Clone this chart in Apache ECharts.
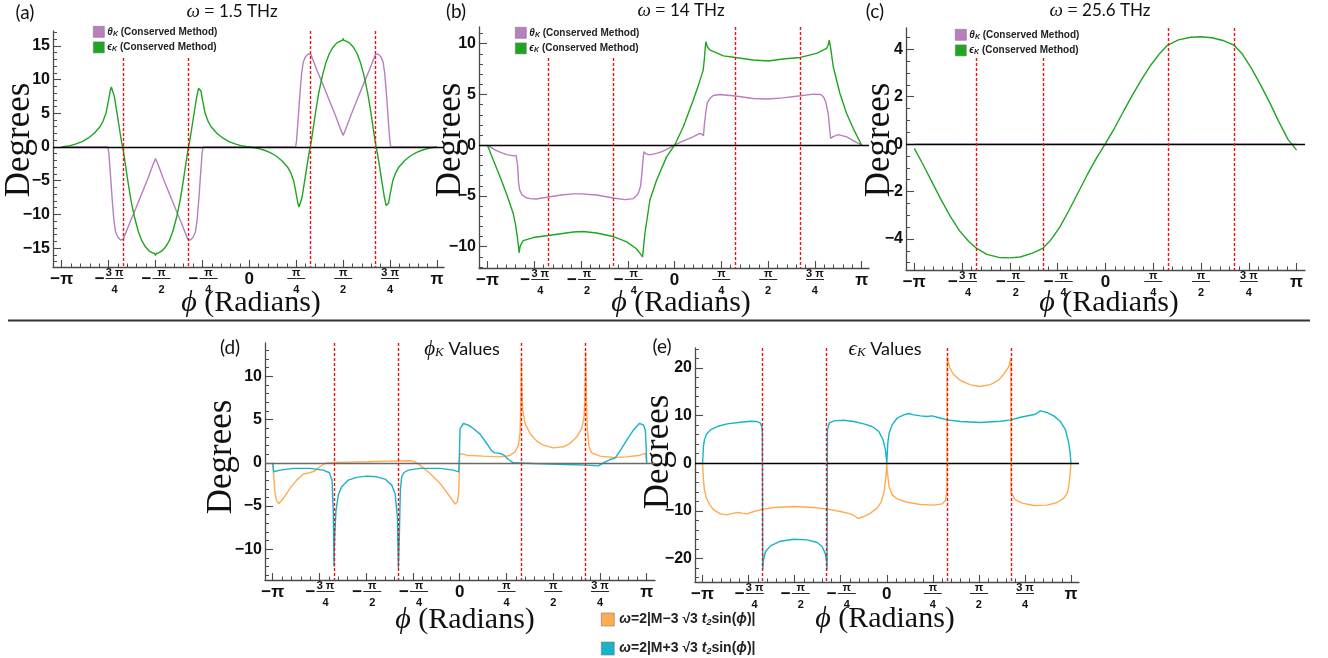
<!DOCTYPE html>
<html>
<head>
<meta charset="utf-8">
<script src="https://cdn.jsdelivr.net/npm/echarts@6/dist/echarts.min.js"></script>
<style>
  html, body { margin: 0; padding: 0; background: #fff; }
  #chart { width: 1328px; height: 658px; }
</style>
</head>
<body>
<div id="chart"></div>
<script>
const PI = Math.PI;

// ---- phi axis ticks (multiples of pi/4) ----
const tickPhi = [-PI, -3 * PI / 4, -PI / 2, -PI / 4, 0, PI / 4, PI / 2, 3 * PI / 4, PI];
const tickText = ['−π', '−3π/4', '−π/2', '−π/4', '0', 'π/4', 'π/2', '3π/4', 'π'];

// ---- degree axis ticks per panel ----
const yTicksA = [-15, -10, -5, 0, 5, 10, 15];
const yTicksB = [-10, -5, 0, 5, 10];
const yTicksC = [-4, -2, 0, 2, 4];
const yTicksD = [-10, -5, 0, 5, 10];
const yTicksE = [-20, -10, 0, 10, 20];

// ---- guide lines: [phi, from, to] ----
const guidesA = [[-2.116, 13.2, -17.8], [-1.026, 13.2, -17.8], [1.026, 17.2, -17.8], [2.116, 17.2, -17.8]];
const guidesB = [[-2.116, 8.6, -12.1], [-1.026, 8.6, -12.1], [1.026, 11.65, -12.1], [2.116, 11.65, -12.1]];
const guidesC = [[-2.116, 3.63, -5.31], [-1.026, 3.63, -5.31], [1.026, 4.9, -5.31], [2.116, 4.9, -5.31]];
const guidesD = [[-2.116, 13.84, -13.54], [-1.026, 13.84, -13.54], [1.026, 13.84, -13.54], [2.116, 13.84, -13.54]];
const guidesE = [[-2.116, 24.2, -24.96], [-1.026, 24.2, -24.96], [1.026, 24.2, -24.96], [2.116, 24.2, -24.96]];

// ---- (a) omega = 1.5 THz ----
const phiThetaA = [-3.1416, -2.367, -2.351, -2.323, -2.295, -2.267, -2.239, -2.2, -2.155, -2.111, -2.0, -1.9, -1.8, -1.7, -1.62, -1.571, -1.52, -1.44, -1.34, -1.24, -1.14, -1.031, -0.987, -0.942, -0.903, -0.875, -0.847, -0.819, -0.791, -0.775,
  0.775, 0.791, 0.819, 0.847, 0.875, 0.903, 0.942, 0.987, 1.031, 1.14, 1.24, 1.34, 1.44, 1.52, 1.571, 1.62, 1.70, 1.80, 1.90, 2.0, 2.111, 2.155, 2.2, 2.239, 2.267, 2.295, 2.323, 2.351, 2.367, 3.1416];
const thetaA = [0, 0, -1.0, -4.4, -7.9, -10.9, -12.6, -13.4, -13.8, -13.7, -11.2, -9.1, -6.9, -4.7, -2.8, -1.7, -2.8, -4.7, -6.9, -9.1, -11.2, -13.7, -13.8, -13.4, -12.6, -10.9, -7.9, -4.4, -1.0, 0,
  0, 1.0, 4.4, 7.9, 10.9, 12.6, 13.4, 13.8, 13.7, 11.2, 9.1, 6.9, 4.7, 2.8, 1.7, 2.8, 4.7, 6.9, 9.1, 11.2, 13.7, 13.8, 13.4, 12.6, 10.9, 7.9, 4.4, 1.0, 0, 0];
const phiEpsA = [-3.1416, -3.0, -2.9, -2.8, -2.7, -2.6, -2.5, -2.45, -2.4, -2.36, -2.33, -2.31, -2.29, -2.26, -2.22, -2.18, -2.14, -2.12, -2.08, -2.03, -1.98, -1.92, -1.86, -1.80, -1.74, -1.68, -1.62, -1.585, -1.571, -1.557, -1.52, -1.46, -1.40, -1.34, -1.28, -1.22, -1.16, -1.11, -1.06, -1.02, -1.00, -0.96, -0.92, -0.88, -0.85, -0.83, -0.81, -0.78, -0.74, -0.69, -0.64, -0.54, -0.44, -0.34, -0.24, -0.14, 0,
  0.1416, 0.2416, 0.3416, 0.4416, 0.5416, 0.6416, 0.6916, 0.7416, 0.7816, 0.8116, 0.8316, 0.8516, 0.8816, 0.9216, 0.9616, 1.0016, 1.0216, 1.0616, 1.1116, 1.1616, 1.2216, 1.2816, 1.3416, 1.4016, 1.4616, 1.5216, 1.5566, 1.5706, 1.5846, 1.6216, 1.6816, 1.7416, 1.8016, 1.8616, 1.9216, 1.9816, 2.0316, 2.0816, 2.1216, 2.1416, 2.1816, 2.2216, 2.2616, 2.2916, 2.3116, 2.3316, 2.3616, 2.4016, 2.4516, 2.5016, 2.6016, 2.7016, 2.8016, 2.9016, 3.0016, 3.1416];
const epsA = [0, 0.2, 0.45, 0.8, 1.3, 2.0, 3.0, 3.8, 5.0, 6.8, 8.3, 8.9, 8.7, 7.5, 5.3, 3.0, 0.8, 0, -2.3, -5.3, -8.0, -10.5, -12.5, -13.9, -14.8, -15.4, -15.7, -15.8, -16.1, -15.8, -15.7, -15.4, -14.8, -13.9, -12.5, -10.5, -8.0, -5.3, -2.3, 0, 0.8, 3.0, 5.3, 7.5, 8.7, 8.9, 8.3, 6.8, 5.0, 3.8, 3.0, 2.0, 1.3, 0.8, 0.45, 0.2, 0,
  -0.2, -0.45, -0.8, -1.3, -2.0, -3.0, -3.8, -5.0, -6.8, -8.3, -8.9, -8.7, -7.5, -5.3, -3.0, -0.8, 0, 2.3, 5.3, 8.0, 10.5, 12.5, 13.9, 14.8, 15.4, 15.7, 15.8, 16.1, 15.8, 15.7, 15.4, 14.8, 13.9, 12.5, 10.5, 8.0, 5.3, 2.3, 0, -0.8, -3.0, -5.3, -7.5, -8.7, -8.9, -8.3, -6.8, -5.0, -3.8, -3.0, -2.0, -1.3, -0.8, -0.45, -0.2, 0];

// ---- (b) omega = 14 THz ----
const phiThetaB = [-3.1416, -3.0, -2.9, -2.8, -2.7, -2.66, -2.645, -2.635, -2.62, -2.60, -2.56, -2.50, -2.43, -2.32, -2.12, -1.9, -1.7, -1.57, -1.31, -1.03, -0.834, -0.69, -0.61, -0.57, -0.554, -0.535, -0.515, -0.48, -0.42, -0.3, -0.2, -0.1, 0,
  0.1, 0.2, 0.3, 0.4, 0.44, 0.47, 0.485, 0.50, 0.526, 0.55, 0.593, 0.65, 0.76, 1.02, 1.32, 1.57, 1.82, 2.11, 2.33, 2.45, 2.50, 2.54, 2.58, 2.605, 2.62, 2.66, 2.75, 2.89, 3.0, 3.1416];
const thetaB = [0, -0.5, -0.75, -0.95, -1.05, -1.0, -0.9, -2.0, -3.6, -4.4, -4.9, -5.15, -5.26, -5.3, -5.1, -4.9, -4.8, -4.8, -4.9, -5.2, -5.36, -5.26, -4.77, -4.0, -3.1, -1.8, -0.65, -0.85, -0.95, -0.8, -0.6, -0.3, 0,
  0.3, 0.55, 0.8, 1.1, 1.15, 1.05, 0.95, 2.0, 3.3, 4.2, 4.6, 4.9, 5.0, 4.85, 4.6, 4.55, 4.67, 4.87, 5.03, 5.0, 4.77, 4.2, 3.1, 1.5, 0.66, 0.85, 1.05, 0.82, 0.45, 0];
const phiEpsB = [-3.1416, -3.04, -2.93, -2.82, -2.71, -2.67, -2.64, -2.62, -2.61, -2.59, -2.54, -2.37, -2.12, -1.70, -1.53, -1.31, -1.03, -0.81, -0.64, -0.56, -0.537, -0.498, -0.414, -0.302, -0.134, 0,
  0.145, 0.313, 0.40, 0.481, 0.50, 0.515, 0.526, 0.55, 0.59, 0.82, 1.02, 1.32, 1.57, 1.82, 2.11, 2.384, 2.552, 2.58, 2.597, 2.62, 2.664, 2.776, 2.888, 3.0, 3.1416];
const epsB = [0, -1.5, -3.1, -4.8, -6.7, -7.8, -9.0, -10.0, -10.6, -9.9, -9.4, -9.1, -8.9, -8.55, -8.5, -8.65, -9.0, -9.5, -10.2, -10.8, -11.0, -8.7, -5.4, -3.45, -1.15, 0,
  1.8, 4.44, 5.9, 7.4, 8.5, 9.6, 10.2, 9.7, 9.4, 8.8, 8.65, 8.4, 8.3, 8.5, 8.65, 9.05, 9.54, 9.9, 10.36, 9.6, 7.73, 5.1, 3.13, 1.64, 0];

// ---- (c) omega = 25.6 THz ----
const phiThetaC = [-3.1416, 3.1416];
const thetaC = [0, 0];
const phiEpsC = [-3.1416, -3.0, -2.85, -2.7, -2.55, -2.4, -2.25, -2.116, -1.95, -1.75, -1.573, -1.4, -1.2, -1.031, -0.9, -0.75, -0.6, -0.45, -0.3, -0.15, 0,
  0.15, 0.3, 0.45, 0.6, 0.75, 0.9, 1.025, 1.2, 1.4, 1.568, 1.75, 1.95, 2.111, 2.25, 2.4, 2.55, 2.7, 2.85, 3.0, 3.1416];
const epsC = [-0.18, -0.85, -1.6, -2.35, -3.05, -3.65, -4.1, -4.4, -4.65, -4.78, -4.8, -4.76, -4.6, -4.4, -4.05, -3.5, -2.8, -2.05, -1.3, -0.6, 0.02,
  0.68, 1.4, 2.1, 2.75, 3.35, 3.85, 4.18, 4.4, 4.51, 4.53, 4.49, 4.36, 4.18, 3.8, 3.2, 2.5, 1.75, 0.95, 0.2, -0.25];

// ---- (d) phi_K values ----
const phiMinusD = [-3.1416, -3.119, -3.103, -3.075, -3.035, -2.963, -2.851, -2.739, -2.627, -2.515, -2.431, -2.347, -2.263, -2.123, -1.843, -1.562, -1.226, -0.834, -0.75, -0.666, -0.498, -0.33, -0.162, -0.078, -0.039, -0.017, -0.006, 0,
  0.118, 0.398, 0.678, 0.846, 0.93, 0.986, 1.014, 1.03, 1.036, 1.042, 1.058, 1.098, 1.182, 1.294, 1.406, 1.574, 1.742, 1.854, 1.966, 2.05, 2.089, 2.106, 2.117, 2.128, 2.145, 2.173, 2.218, 2.358, 2.582, 2.806, 3.03, 3.119, 3.1416];
const minusD = [0, -2.0, -3.54, -4.4, -4.7, -4.1, -2.96, -2.0, -1.3, -1.15, -0.92, -0.46, -0.08, 0.04, 0.08, 0.12, 0.19, 0.23, 0.1, -0.27, -1.23, -2.38, -3.92, -4.77, -4.5, -3.5, -0.85, 1.08,
  0.88, 0.77, 0.69, 0.85, 1.27, 2.04, 3.4, 7.6, 12.0, 9.5, 6.1, 4.54, 3.38, 2.5, 2.04, 1.73, 1.85, 2.23, 3.0, 3.96, 5.3, 7.6, 12.8, 7.6, 3.77, 1.85, 1.15, 0.77, 0.62, 0.69, 0.88, 1.08, 0];
const phiPlusD = [-3.1416, -3.125, -3.018, -2.795, -2.515, -2.29, -2.19, -2.145, -2.123, -2.112, -2.1, -2.078, -2.039, -1.983, -1.871, -1.731, -1.562, -1.394, -1.254, -1.142, -1.086, -1.047, -1.03, -1.014, -0.997, -0.975, -0.935, -0.862, -0.666, -0.33, -0.106, -0.017, -0.006,
  0.006, 0.062, 0.146, 0.23, 0.342, 0.454, 0.538, 0.594, 0.678, 0.745, 0.818, 0.902, 1.238, 1.798, 2.134, 2.33, 2.414, 2.526, 2.61, 2.694, 2.806, 2.918, 3.019, 3.086, 3.119, 3.13, 3.1416];
const plusD = [0, -1.04, -0.85, -0.65, -0.65, -0.85, -1.15, -2.0, -5.85, -12.0, -8.5, -5.46, -3.73, -2.77, -2.0, -1.69, -1.54, -1.62, -1.88, -2.58, -3.54, -6.23, -12.2, -8.5, -3.15, -1.62, -1.12, -0.85, -0.65, -0.65, -0.85, -1.04, 0.7,
  3.96, 4.54, 4.35, 3.96, 3.31, 2.23, 1.38, 1.15, 1.08, 0.88, 0.38, 0, -0.08, -0.19, -0.27, -0.35, 0, 0.38, 0.54, 1.38, 2.62, 3.77, 4.54, 4.38, 3.77, 2.23, 0];

// ---- (e) epsilon_K values ----
const phiMinusE = [-3.1416, -3.127, -3.11, -3.076, -3.019, -2.951, -2.837, -2.723, -2.609, -2.541, -2.467, -2.382, -2.268, -2.115, -1.927, -1.586, -1.245, -1.018, -0.79, -0.62, -0.534, -0.495, -0.392, -0.279, -0.165, -0.091, -0.04, -0.011, 0,
  0.011, 0.04, 0.091, 0.176, 0.347, 0.574, 0.802, 0.944, 1.0, 1.018, 1.026, 1.03, 1.074, 1.143, 1.256, 1.427, 1.58, 1.768, 1.91, 2.007, 2.081, 2.115, 2.121, 2.138, 2.194, 2.308, 2.507, 2.734, 2.905, 3.019, 3.076, 3.104, 3.127, 3.1416];
const minusE = [0, -3.5, -5.6, -7.35, -8.75, -9.8, -10.64, -10.85, -10.5, -10.36, -10.5, -10.64, -10.15, -9.66, -9.31, -9.1, -9.31, -9.66, -10.15, -10.64, -11.2, -11.62, -11.2, -10.5, -9.45, -8.05, -5.6, -2.1, 0,
  -2.1, -4.9, -6.65, -7.5, -8.2, -8.68, -8.82, -8.54, -7.84, -6.5, -5.0, 22.4, 20.0, 18.56, 17.37, 16.46, 16.1, 16.5, 17.5, 18.9, 20.3, 22.1, -6.3, -6.65, -7.7, -8.4, -8.9, -8.82, -8.26, -7.35, -6.3, -4.9, -2.1, 0];
const phiPlusE = [-3.1416, -3.127, -3.11, -3.076, -3.007, -2.894, -2.723, -2.496, -2.325, -2.211, -2.155, -2.132, -2.122, -2.116, -2.103, -2.069, -1.984, -1.814, -1.586, -1.359, -1.188, -1.103, -1.052, -1.029, -1.018, -1.012, -0.983, -0.904, -0.733, -0.563, -0.392, -0.25, -0.136, -0.063, -0.023, 0,
  0.017, 0.04, 0.091, 0.176, 0.29, 0.375, 0.46, 0.574, 0.688, 0.773, 0.858, 1.029, 1.256, 1.597, 1.939, 2.12, 2.28, 2.45, 2.535, 2.575, 2.621, 2.734, 2.848, 2.962, 3.047, 3.098, 3.127, 3.1416];
const plusE = [0, 3.5, 4.9, 6.1, 7.0, 7.7, 8.26, 8.6, 8.82, 8.75, 8.4, 7.7, 6.5, -22.4, -20.3, -18.56, -17.37, -16.39, -15.97, -16.1, -16.67, -17.5, -18.9, -20.3, -22.4, 7.0, 8.4, 8.9, 9.03, 8.75, 8.26, 7.7, 6.65, 4.9, 2.8, 0,
  4.2, 6.3, 8.05, 9.45, 10.15, 10.43, 10.15, 9.94, 9.8, 9.94, 9.66, 9.1, 8.75, 8.54, 8.82, 9.1, 9.66, 10.08, 10.29, 10.64, 10.99, 10.64, 9.94, 8.75, 7.0, 4.55, 2.1, 0];

// ---- series names ----
const NAME_THETA = 'θK (Conserved Method)';
const NAME_EPS = 'ϵK (Conserved Method)';
const NAME_MINUS = 'ω=2|M−3√3 t2sin(ϕ)|';
const NAME_PLUS = 'ω=2|M+3√3 t2sin(ϕ)|';

// ---- styling ----
const SANS = '"Liberation Sans", Arial, sans-serif';
const SERIF = '"Liberation Serif", "Times New Roman", serif';
const CAL = 'Lato, "Open Sans", sans-serif';
const PURPLE = '#b87ec0';
const GREEN = '#1fa51f';
const ORANGE = '#ffab52';
const CYAN = '#17b3c8';
const RED = '#f01010';
const AXIS = '#4a4a4a';

const panels = [
  { grid: { left: 53, top: 31, width: 391, height: 236 }, x: [-3.287, 3.259], y: [-17.8, 17.2], yt: yTicksA, ym: 1, guides: guidesA, zero: '#000' },
  { grid: { left: 479, top: 27, width: 390, height: 241 }, x: [-3.283, 3.264], y: [-12.1, 11.65], yt: yTicksB, ym: 1, guides: guidesB, zero: '#000' },
  { grid: { left: 906, top: 28, width: 399, height: 242 }, x: [-3.278, 3.28], y: [-5.31, 4.9], yt: yTicksC, ym: 0.5, guides: guidesC, zero: '#000' },
  { grid: { left: 265, top: 343, width: 390, height: 237 }, x: [-3.271, 3.281], y: [-13.54, 13.84], yt: yTicksD, ym: 1, guides: guidesD, zero: '#6a6a6a' },
  { grid: { left: 695, top: 348, width: 384, height: 234 }, x: [-3.271, 3.278], y: [-24.96, 24.2], yt: yTicksE, ym: 2, guides: guidesE, zero: '#000' }
];

function pairs(phi, vals) {
  const n = Math.min(phi.length, vals.length);
  const out = [];
  for (let i = 0; i < n; i++) out.push([phi[i], vals[i]]);
  return out;
}

// minor tick positions: pi/20 steps on phi, panel step on degrees
const minorPhi = [];
for (let k = -20; k <= 20; k++) if (k % 5 !== 0) minorPhi.push(k * PI / 20);
function minorY(range, step, major) {
  const out = [];
  const a = Math.ceil(range[0] / step), b = Math.floor(range[1] / step);
  for (let k = a; k <= b; k++) {
    const v = +(k * step).toFixed(4);
    if (!major.some(m => Math.abs(m - v) < 1e-6)) out.push(v);
  }
  return out;
}

// stacked fraction labels: numerator / rule / denominator
function xLabel(v) {
  const i = Math.round(v / (PI / 4)) + 4;
  const t = tickText[i] || '';
  const neg = t.charAt(0) === '−';
  const body = neg ? t.slice(1) : t;
  if (body.indexOf('/') < 0) return '{e1| }\n{big|' + t + '}\n{e2| }';
  const parts = body.split('/');
  const num = parts[0].replace('π', ' π').trim();
  if (neg) return '{sp1| }{num|' + num + '}\n{mn|−}{bar|——}\n{sp2| }{den|' + parts[1] + '}';
  return '{num|' + num + '}\n{bar|——}\n{den|' + parts[1] + '}';
}
const xRich = {
  e1: { fontSize: 6, lineHeight: 8, align: 'center' },
  e2: { fontSize: 6, lineHeight: 18, align: 'center' },
  big: { fontFamily: SANS, fontWeight: 'bold', fontSize: 17, lineHeight: 4, color: '#111', align: 'center' },
  sp1: { width: 12, fontSize: 6, lineHeight: 8, align: 'center' },
  sp2: { width: 12, fontSize: 6, lineHeight: 18, align: 'center' },
  num: { width: 18, fontFamily: SANS, fontWeight: 'bold', fontSize: 11, lineHeight: 8, color: '#111', align: 'center' },
  mn: { width: 12, fontFamily: SANS, fontWeight: 'bold', fontSize: 17, lineHeight: 4, color: '#111', align: 'center' },
  bar: { width: 18, fontFamily: SANS, fontWeight: 'bold', fontSize: 9, lineHeight: 4, color: '#111', align: 'center' },
  den: { width: 18, fontFamily: SANS, fontWeight: 'bold', fontSize: 11, lineHeight: 18, color: '#111', align: 'center' }
};
const yLabel = v => (v < 0 ? '−' + (-v) : String(v));

const grid = [], xAxis = [], yAxis = [];
panels.forEach((p, k) => {
  grid.push(Object.assign({ containLabel: false }, p.grid));
  xAxis.push({
    type: 'value', gridIndex: k, min: p.x[0], max: p.x[1], position: 'bottom',
    axisLine: { show: true, onZero: false, lineStyle: { color: AXIS, width: 1.3 } },
    axisTick: { show: true, inside: true, length: 7, customValues: tickPhi, lineStyle: { color: AXIS, width: 1.1 } },
    axisLabel: { show: true, customValues: tickPhi, formatter: xLabel, rich: xRich, margin: 2 },
    splitLine: { show: false }
  });
  xAxis.push({
    type: 'value', gridIndex: k, min: p.x[0], max: p.x[1], position: 'bottom',
    axisLine: { show: false, onZero: false },
    axisTick: { show: true, inside: true, length: 3.5, customValues: minorPhi, lineStyle: { color: AXIS, width: 1 } },
    axisLabel: { show: false }, splitLine: { show: false }
  });
  yAxis.push({
    type: 'value', gridIndex: k, min: p.y[0], max: p.y[1], position: 'left',
    axisLine: { show: true, onZero: false, lineStyle: { color: AXIS, width: 1.3 } },
    axisTick: { show: true, inside: true, length: 8, customValues: p.yt, lineStyle: { color: AXIS, width: 1.1 } },
    axisLabel: { show: true, customValues: p.yt, formatter: yLabel, fontFamily: SANS, fontWeight: 'bold', fontSize: 16, color: '#111', margin: 3 },
    splitLine: { show: false }
  });
  yAxis.push({
    type: 'value', gridIndex: k, min: p.y[0], max: p.y[1], position: 'left',
    axisLine: { show: false, onZero: false },
    axisTick: { show: true, inside: true, length: 4, customValues: minorY(p.y, p.ym, p.yt), lineStyle: { color: AXIS, width: 1 } },
    axisLabel: { show: false }, splitLine: { show: false }
  });
});

function zeroLine(color) {
  return { silent: true, symbol: 'none', label: { show: false }, lineStyle: { color: color, width: 1.3, type: 'solid' }, data: [{ yAxis: 0 }], animation: false };
}
function guideLines(g) {
  return {
    silent: true, symbol: 'none', label: { show: false },
    lineStyle: { color: RED, width: 1.4, type: [3, 2] },
    data: g.map(d => [{ coord: [d[0], d[1]] }, { coord: [d[0], d[2]] }]), animation: false
  };
}
function line(name, k, data, color, extra) {
  return Object.assign({
    type: 'line', name: name, xAxisIndex: 2 * k, yAxisIndex: 2 * k, data: data,
    showSymbol: false, symbol: 'none', lineStyle: { color: color, width: 1.4 }, itemStyle: { color: color },
    emphasis: { disabled: true }, animation: false, z: 3
  }, extra || {});
}

const series = [
  line(NAME_THETA, 0, pairs(phiThetaA, thetaA), PURPLE, { markLine: zeroLine(panels[0].zero) }),
  line(NAME_EPS, 0, pairs(phiEpsA, epsA), GREEN, { markLine: guideLines(panels[0].guides) }),
  line(NAME_THETA, 1, pairs(phiThetaB, thetaB), PURPLE, { markLine: zeroLine(panels[1].zero) }),
  line(NAME_EPS, 1, pairs(phiEpsB, epsB), GREEN, { markLine: guideLines(panels[1].guides) }),
  line(NAME_THETA, 2, pairs(phiThetaC, thetaC), PURPLE, { markLine: zeroLine(panels[2].zero), z: 2 }),
  line(NAME_EPS, 2, pairs(phiEpsC, epsC), GREEN, { markLine: guideLines(panels[2].guides) }),
  line(NAME_MINUS, 3, pairs(phiMinusD, minusD), ORANGE, { markLine: zeroLine(panels[3].zero) }),
  line(NAME_PLUS, 3, pairs(phiPlusD, plusD), CYAN, { markLine: guideLines(panels[3].guides) }),
  line(NAME_MINUS, 4, pairs(phiMinusE, minusE), ORANGE, { markLine: zeroLine(panels[4].zero) }),
  line(NAME_PLUS, 4, pairs(phiPlusE, plusE), CYAN, { markLine: guideLines(panels[4].guides) })
];

const topLegendRich = {
  g: { fontFamily: SANS, fontStyle: 'italic', fontWeight: 'bold', fontSize: 10, lineHeight: 11, color: '#222' },
  s: { fontFamily: SANS, fontStyle: 'italic', fontWeight: 'bold', fontSize: 7, lineHeight: 11, color: '#222', padding: [4, 0, 0, 0] },
  t: { fontFamily: SANS, fontWeight: 'bold', fontSize: 10, lineHeight: 11, color: '#222' }
};
function topLegendText(name) {
  return '{g|' + name.charAt(0) + '}{s|K}{t| (Conserved Method)}';
}
function topLegend(left, top) {
  return {
    left: left, top: top, padding: 0, orient: 'vertical', icon: 'rect', itemWidth: 11, itemHeight: 11, itemGap: 4,
    selectedMode: false, data: [NAME_THETA, NAME_EPS],
    itemStyle: { borderColor: '#7a7a7a', borderWidth: 0.6 },
    formatter: topLegendText, textStyle: { rich: topLegendRich, padding: [0, 0, 0, -2] }
  };
}
const botLegendRich = {
  i: { fontFamily: SANS, fontStyle: 'italic', fontWeight: 'bold', fontSize: 14, lineHeight: 13, color: '#222' },
  b: { fontFamily: SANS, fontWeight: 'bold', fontSize: 14, lineHeight: 13, color: '#222' },
  sub: { fontFamily: SANS, fontStyle: 'italic', fontWeight: 'bold', fontSize: 9, lineHeight: 13, color: '#222', padding: [6, 0, 0, 0] }
};
function botLegendText(name) {
  const sign = name.indexOf('−') >= 0 ? '−' : '+';
  return '{i|ω}{b|=2|M' + sign + '3 √3 }{i|t}{sub|2}{b|sin(}{i|ϕ}{b|)|}';
}

const titleRich = {
  w: { fontFamily: SERIF, fontStyle: 'italic', fontSize: 19, fill: '#111' },
  q: { fontFamily: SERIF, fontSize: 18, fill: '#111' },
  n: { fontFamily: CAL, fontSize: 17, fill: '#111' }
};
function textEl(x, y, text, font, extra) {
  return Object.assign({
    type: 'text', x: x, y: y, silent: true,
    style: Object.assign({ text: text, align: 'center', verticalAlign: 'middle', fill: '#111' }, font)
  }, extra || {});
}
const axisTitleRich = {
  p: { fontFamily: SERIF, fontStyle: 'italic', fontSize: 30, fill: '#111' },
  r: { fontFamily: SERIF, fontSize: 30, fill: '#111' }
};
const valuesRich = {
  p: { fontFamily: SERIF, fontStyle: 'italic', fontSize: 21, fill: '#111' },
  k: { fontFamily: SERIF, fontStyle: 'italic', fontSize: 13, fill: '#111', padding: [8, 0, 0, 0] },
  v: { fontFamily: CAL, fontSize: 18, fill: '#111' }
};
const graphic = [
  { type: 'line', silent: true, shape: { x1: 8, y1: 320.5, x2: 1310, y2: 320.5 }, style: { stroke: '#333', lineWidth: 2 } },
  textEl(25, 13, '(a)', { fontFamily: CAL, fontSize: 19 }),
  textEl(456, 12, '(b)', { fontFamily: CAL, fontSize: 19 }),
  textEl(875, 12, '(c)', { fontFamily: CAL, fontSize: 19 }),
  textEl(230, 348, '(d)', { fontFamily: CAL, fontSize: 19 }),
  textEl(662, 347, '(e)', { fontFamily: CAL, fontSize: 19 }),
  textEl(232, 12, '{w|ω}{q| = }{n|1.5 THz}', { rich: titleRich }),
  textEl(681, 11, '{w|ω}{q| = }{n|14 THz}', { rich: titleRich }),
  textEl(1100, 11, '{w|ω}{q| = }{n|25.6 THz}', { rich: titleRich }),
  textEl(462, 349, '{p|ϕ}{k|K}{v| Values}', { rich: valuesRich }),
  textEl(885, 349, '{p|ϵ}{k|K}{v| Values}', { rich: valuesRich }),
  textEl(251, 303, '{p|ϕ}{r| (Radians)}', { rich: axisTitleRich }),
  textEl(681, 303, '{p|ϕ}{r| (Radians)}', { rich: axisTitleRich }),
  textEl(1109, 303, '{p|ϕ}{r| (Radians)}', { rich: axisTitleRich }),
  textEl(465, 620, '{p|ϕ}{r| (Radians)}', { rich: axisTitleRich }),
  textEl(885, 619, '{p|ϕ}{r| (Radians)}', { rich: axisTitleRich }),
  textEl(20, 140, 'Degrees', { fontFamily: SERIF, fontSize: 35 }, { rotation: PI / 2 }),
  textEl(451, 140, 'Degrees', { fontFamily: SERIF, fontSize: 35 }, { rotation: PI / 2 }),
  textEl(880, 140, 'Degrees', { fontFamily: SERIF, fontSize: 35 }, { rotation: PI / 2 }),
  textEl(222, 457, 'Degrees', { fontFamily: SERIF, fontSize: 35 }, { rotation: PI / 2 }),
  textEl(659, 452, 'Degrees', { fontFamily: SERIF, fontSize: 35 }, { rotation: PI / 2 })
];

const chart = echarts.init(document.getElementById('chart'), null, { renderer: 'canvas' });
chart.setOption({
  animation: false,
  backgroundColor: '#fff',
  textStyle: { fontFamily: SANS },
  grid: grid,
  xAxis: xAxis,
  yAxis: yAxis,
  legend: [
    topLegend(93, 26),
    topLegend(515, 27),
    topLegend(955, 29),
    {
      left: 601, top: 612, padding: 0, orient: 'vertical', icon: 'rect', itemWidth: 13, itemHeight: 13, itemGap: 14,
      selectedMode: false, data: [NAME_MINUS, NAME_PLUS],
      itemStyle: { borderColor: '#7a7a7a', borderWidth: 0.6 },
      formatter: botLegendText, textStyle: { rich: botLegendRich }
    }
  ],
  series: series,
  graphic: graphic
});
</script>
</body>
</html>
